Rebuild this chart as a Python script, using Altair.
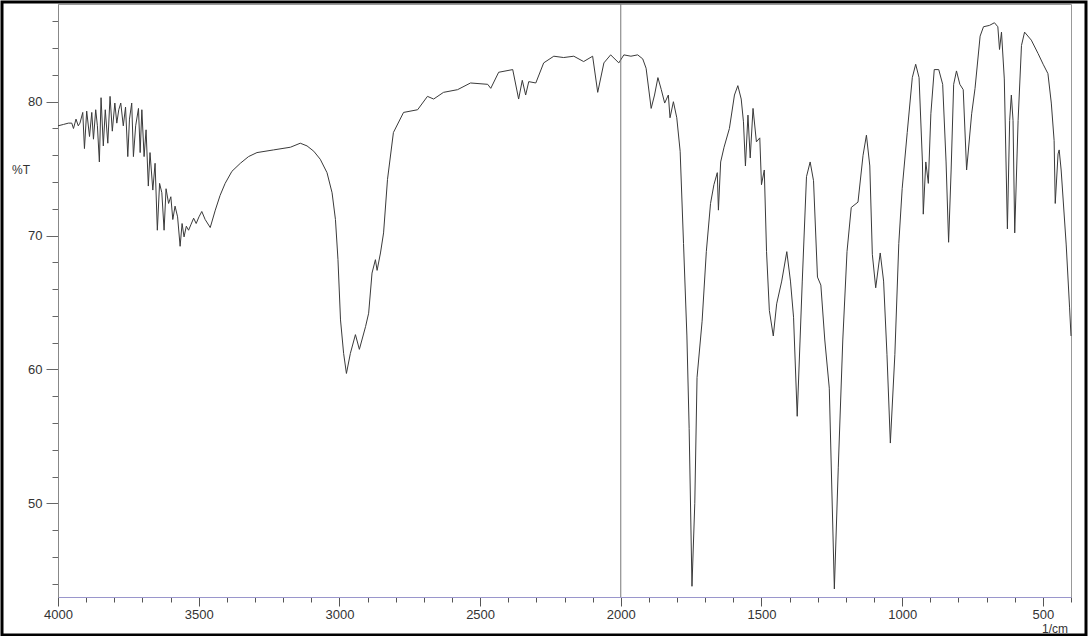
import altair as alt
import pandas as pd

# ---- data ----
wavenumber = [
    4000, 3981, 3963, 3951, 3945, 3936, 3928, 3922, 3912, 3906, 3898, 3888, 3880, 3874, 3866, 3860,
    3853, 3847, 3839, 3832, 3823, 3815, 3807, 3798, 3791, 3784, 3777, 3768, 3760, 3752, 3746, 3738,
    3732, 3724, 3714, 3708, 3702, 3694, 3687, 3679, 3673, 3663, 3655, 3647, 3639, 3631, 3623, 3616,
    3607, 3599, 3592, 3584, 3575, 3566, 3559, 3552, 3544, 3536, 3528, 3518, 3509, 3499, 3489, 3477,
    3459, 3441, 3424, 3406, 3382, 3352, 3323, 3293, 3234, 3174, 3139, 3115, 3091, 3068, 3044, 3026,
    3014, 3005,
    2996, 2985, 2975, 2961, 2943, 2929, 2907, 2896, 2884, 2872, 2866, 2854, 2843, 2829, 2808, 2772,
    2722, 2687, 2665, 2630, 2580, 2534, 2473, 2462, 2434, 2384, 2363, 2350, 2338, 2327, 2302, 2274,
    2238, 2203, 2167, 2132, 2100, 2082, 2060, 2036, 2007, 1989, 1964, 1940,
    1922, 1910, 1892, 1880, 1868, 1856, 1844, 1831, 1825, 1813, 1801, 1789, 1777, 1765, 1757, 1747,
    1737, 1729, 1711, 1696, 1681, 1669, 1657, 1653, 1645, 1633, 1614, 1596, 1584, 1572, 1564, 1557,
    1548, 1540, 1530, 1518, 1506, 1500, 1490, 1482, 1472, 1458, 1446, 1428, 1410, 1397, 1386, 1373,
    1355, 1340, 1327, 1315, 1301, 1289, 1275, 1259, 1241, 1227, 1211, 1196, 1181, 1157, 1139, 1127,
    1115, 1106, 1094, 1078, 1066, 1054, 1042, 1026, 1012, 1000, 982, 964, 952, 940, 928, 925,
    916, 907, 898, 886, 870, 856, 844, 835, 826, 817, 807, 795, 783, 771, 753, 741,
    723, 711, 690, 672, 660, 654, 647, 637, 626, 618, 612, 606, 600, 588, 576, 565,
    541, 517, 499, 482, 470, 460, 456, 446, 442, 435, 417, 405, 400,
]
transmittance = [
    78.2, 78.3, 78.4, 78.4, 78.0, 78.7, 78.2, 78.4, 79.2, 76.5, 79.3, 77.4, 79.2, 77.2, 79.4, 78.2,
    75.5, 80.3, 76.7, 79.4, 76.9, 80.4, 77.8, 79.9, 78.4, 79.4, 79.9, 78.2, 79.6, 75.9, 78.7, 79.9,
    75.9, 78.2, 79.5, 76.2, 79.4, 75.9, 77.9, 73.7, 76.2, 73.4, 75.4, 70.4, 73.9, 73.2, 70.4, 73.5,
    72.4, 72.9, 71.2, 72.2, 71.4, 69.2, 70.9, 69.9, 70.7, 70.4, 70.8, 71.3, 70.9, 71.4, 71.8, 71.2,
    70.6, 71.9, 73.0, 73.9, 74.8, 75.4, 75.9, 76.2, 76.4, 76.6, 76.9, 76.7, 76.3, 75.7, 74.7, 73.2,
    71.2, 68.2,
    63.7, 61.2, 59.7, 61.2, 62.6, 61.5, 63.2, 64.2, 67.2, 68.2, 67.4, 68.7, 70.2, 74.2, 77.7, 79.2,
    79.4, 80.4, 80.2, 80.7, 80.9, 81.4, 81.3, 81.0, 82.2, 82.4, 80.2, 81.6, 80.5, 81.5, 81.4, 82.9,
    83.4, 83.3, 83.4, 83.0, 83.4, 80.7, 82.9, 83.5, 82.9, 83.5, 83.4, 83.5,
    83.2, 82.5, 79.5, 80.5, 81.8, 80.9, 79.9, 80.5, 78.8, 80.0, 78.8, 76.3, 69.4, 62.5, 55.6, 43.8,
    50.0, 59.4, 63.6, 68.8, 72.4, 73.8, 74.7, 71.9, 75.5, 76.6, 78.0, 80.5, 81.2, 80.2, 78.5, 75.2,
    79.0, 75.8, 79.5, 77.0, 77.3, 73.8, 74.9, 68.8, 64.4, 62.5, 64.9, 66.6, 68.8, 66.6, 63.9, 56.5,
    66.6, 74.4, 75.5, 74.1, 66.9, 66.3, 62.2, 58.6, 43.6, 52.7, 62.2, 68.8, 72.1, 72.5, 76.0, 77.5,
    75.2, 68.6, 66.1, 68.7, 66.6, 61.1, 54.5, 61.1, 69.4, 73.5, 77.7, 81.8, 82.8, 81.8, 75.5, 71.6,
    75.5, 73.9, 79.1, 82.4, 82.4, 81.3, 75.5, 69.5, 74.9, 81.3, 82.3, 81.3, 80.9, 74.9, 79.1, 81.0,
    84.9, 85.6, 85.7, 85.9, 85.6, 83.9, 85.2, 81.7, 70.5, 78.6, 80.5, 78.6, 70.2, 78.6, 84.2, 85.2,
    84.6, 83.6, 82.8, 82.1, 79.9, 77.1, 72.4, 76.1, 76.4, 74.9, 69.3, 64.6, 62.5,
]
x_tick_values = list(range(4000, 399, -100))
y_tick_values = list(range(44, 87, 2))
split_line = [2000]

df = pd.DataFrame({"wn": wavenumber, "T": transmittance})

FONT = "Liberation Sans"
W, H = 1013, 593
PAD = {"left": 58, "top": 4, "right": 17, "bottom": 39}

x_scale = alt.Scale(domain=[400, 4000], reverse=True, nice=False, zero=False)
y_scale = alt.Scale(domain=[43, 87.3], nice=False, zero=False)

x_axis = alt.Axis(
    values=x_tick_values,
    format="d",
    labelExpr="datum.value % 500 === 0 ? datum.label : ''",
    tickSize={"condition": {"test": "datum.value % 500 === 0", "value": 9}, "value": 5},
    title=None,
    grid=False,
    labelFlush=False,
    labelOverlap=False,
    labelBound=False,
    labelPadding=2,
    labelFontSize=13,
    labelColor="#333333",
    domainColor="#9a96cc",
    tickColor="#555555",
    labelFont=FONT,
)
y_axis = alt.Axis(
    values=y_tick_values,
    format="d",
    labelExpr="datum.value % 10 === 0 ? datum.label : ''",
    tickSize={"condition": {"test": "datum.value % 10 === 0", "value": 12}, "value": 6},
    title=None,
    grid=False,
    labelFlush=False,
    labelOverlap=False,
    labelBound=False,
    labelPadding=4,
    labelFontSize=13,
    labelColor="#333333",
    domainColor="#888888",
    tickColor="#666666",
    labelFont=FONT,
)

spectrum = alt.Chart(df).mark_line(color="#3a3a3a", strokeWidth=1).encode(
    x=alt.X("wn:Q", scale=x_scale, axis=x_axis),
    y=alt.Y("T:Q", scale=y_scale, axis=y_axis),
)

rule = alt.Chart(pd.DataFrame({"wn": split_line})).mark_rule(
    color="#777777", strokeWidth=1
).encode(x=alt.X("wn:Q", scale=x_scale, axis=x_axis))

frame = alt.Chart(pd.DataFrame({"a": [0]})).mark_rect(
    fill="white", fillOpacity=0, stroke="black", strokeWidth=3
).encode(
    x=alt.value(-56), x2=alt.value(1028), y=alt.value(-2), y2=alt.value(631)
)

pct = alt.Chart(pd.DataFrame({"t": ["%T"]})).mark_text(
    align="left", baseline="middle", fontSize=12, font=FONT, color="#333333"
).encode(text="t:N", x=alt.value(-46), y=alt.value(166))

unit = alt.Chart(pd.DataFrame({"t": ["1/cm"]})).mark_text(
    align="right", baseline="top", fontSize=12, font=FONT, color="#333333"
).encode(text="t:N", x=alt.value(1010), y=alt.value(620))

chart = alt.layer(spectrum, rule, pct, unit, frame).properties(
    width=W, height=H, padding=PAD,
    autosize=alt.AutoSizeParams(type="none"),
    background="white",
).configure_view(stroke="#999999", strokeWidth=1).configure_axis(labelOverlap=False)

chart.save("out.html", embed_options={"renderer": "svg", "actions": False})
